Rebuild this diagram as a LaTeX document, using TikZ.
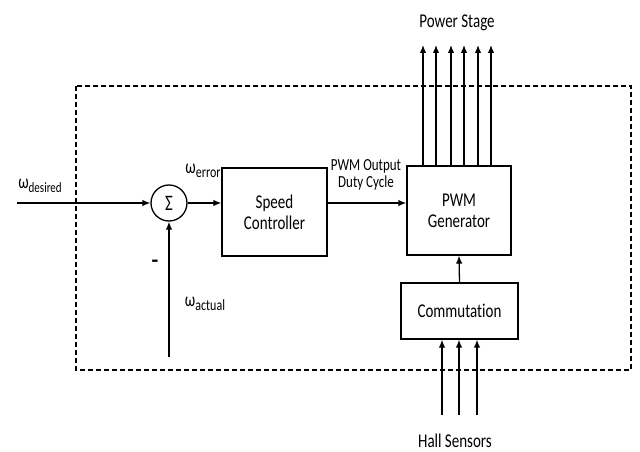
\documentclass[tikz,border=0pt]{standalone}
\usepackage{fontspec}
\setmainfont{Carlito}[Ligatures=NoCommon]
\usetikzlibrary{arrows.meta,positioning}
\newcommand{\etire}[1]{\scalebox{1}[1.3]{#1}}

\begin{document}
\begin{tikzpicture}[x=1pt, y=-1pt,
  bloc/.style={draw, line width=1.3pt, inner sep=0pt, align=center,
    font=\fontsize{15}{21}\selectfont},
  fleche/.style={-{Latex[length=8pt,width=6.5pt]}, line width=1.3pt},
  etiquette/.style={inner sep=0pt, font=\fontsize{15}{16}\selectfont}]
\useasboundingbox (0,0) rectangle (640,452);

% Cadre pointillé du contrôleur
\draw[line width=1.3pt, dash pattern=on 5pt off 3pt] (76,86) rectangle (631,370);

% Sommateur et blocs
\node[draw, circle, line width=1.3pt, minimum size=36pt, inner sep=0pt,
  font=\fontsize{17}{18}\selectfont] (somme) at (169,203) {\etire{Σ}};
\node[bloc, minimum width=105pt, minimum height=88pt] (vitesse) at (274.5,212) {\etire{Speed}\\\etire{Controller}};
\node[bloc, minimum width=104pt, minimum height=89pt] (pwm) at (459,210.5) {\etire{PWM}\\\etire{Generator}};
\node[bloc, minimum width=117pt, minimum height=56pt] (comm) at (459.5,311) {\etire{Commutation}};

% Entrées libres
\coordinate (entree) at (17,203);
\coordinate (retour) at (169,357);

% Liaisons principales
\draw[fleche] (entree) -- (somme.west);
\draw[fleche] (somme.east) -- (somme.east -| vitesse.west);
\draw[fleche] (vitesse.east |- somme) -- (pwm.west |- somme);
\draw[fleche] (retour) -- (somme.south);
\draw[fleche] (comm.north) -- (pwm.south);

% Sorties vers l'étage de puissance
\foreach \x [count=\i] in {423,436,451,464,478,491} {
  \coordinate (ps\i) at (\x,45);
  \draw[fleche] (pwm.north -| ps\i) -- (ps\i);
}

% Capteurs à effet Hall
\foreach \x [count=\i] in {442,459,477} {
  \coordinate (hs\i) at (\x,415);
  \draw[fleche] (hs\i) -- (comm.south -| hs\i);
}

% Labels
\node[etiquette] (wdes) at (40,186) {\etire{ω\raisebox{-0.35ex}{\fontsize{11}{12}\selectfont desired}}};
\node[etiquette] (werr) at (203,171) {\etire{ω\raisebox{-0.35ex}{\fontsize{12}{12}\selectfont error}}};
\node[etiquette] (wact) at (205,304) {\etire{ω\raisebox{-0.35ex}{\fontsize{12}{12}\selectfont actual}}};
\node[etiquette, font=\fontsize{22}{22}\bfseries] (moins) at (155,264) {-};
\node[etiquette, align=center, font=\fontsize{13}{17}\selectfont] (duty) at (366,175) {\etire{PWM Output}\\\etire{Duty Cycle}};
\node[etiquette] (puiss) at (457,23) {\etire{Power Stage}};
\node[etiquette] (hall) at (455,441) {\etire{Hall Sensors}};
\end{tikzpicture}
\end{document}
